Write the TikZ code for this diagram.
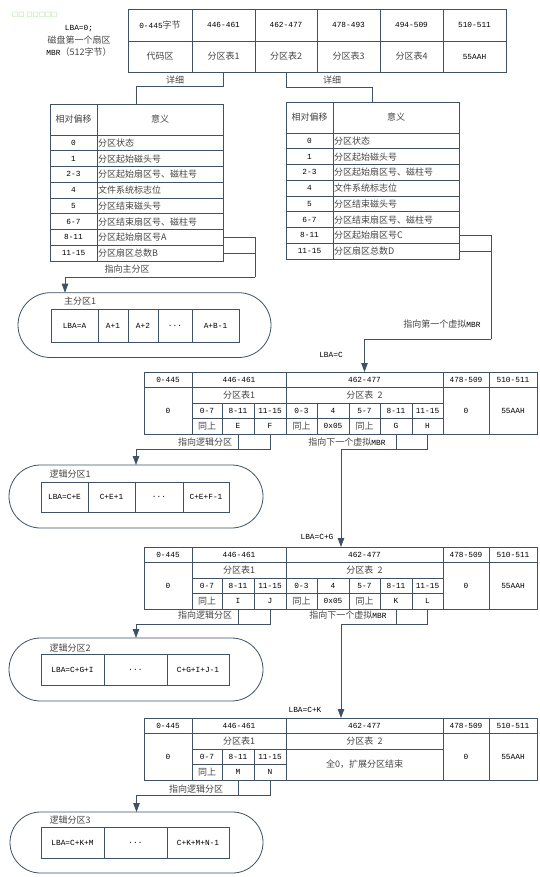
\documentclass[tikz,border=0pt]{standalone}
\usepackage{fontspec}
\setmainfont{Liberation Mono}
\newfontfamily\cjk{Noto Sans CJK SC}
\newfontfamily\djv{DejaVu Sans}
\usetikzlibrary{arrows.meta,fit,calc}
\definecolor{linec}{RGB}{62,82,100}
\definecolor{zhc}{RGB}{70,70,70}
\definecolor{wm}{RGB}{160,222,140}
\newcommand\zh[1]{{\cjk\fontsize{9pt}{12.5pt}\selectfont\color{zhc}#1}}
\newcommand\cellbox[6]{\node[cellst, minimum width={((#4)-(#2))*1pt}, minimum height={((#5)-(#3))*1pt}] (#1) at ({((#2)+(#4))/2},{((#3)+(#5))/2}) {#6};}
\newcommand\cellboxL[6]{\cellbox{#1}{#2}{#3}{#4}{#5}{}\node[anchor=west,inner sep=1pt] at (#1.west) {#6};}
% prefix, k, x0, xm, x1, y0, offset, meaning
\newcommand\prow[8]{%
  \cellbox{#1#2a}{#3}{#6+31+(#2-1)*15.75}{#4}{#6+31+#2*15.75}{#7}%
  \cellboxL{#1#2b}{#4}{#6+31+(#2-1)*15.75}{#5}{#6+31+#2*15.75}{#8}}
% prefix, x0, xm, x1, y0, letterA, letterB
\newcommand\parttable[7]{%
  \cellbox{#1h1}{#2}{#5}{#3}{#5+31}{\zh{相对偏移}}
  \cellbox{#1h2}{#3}{#5}{#4}{#5+31}{\zh{意义}}
  \prow{#1}{1}{#2}{#3}{#4}{#5}{0}{\zh{分区状态}}
  \prow{#1}{2}{#2}{#3}{#4}{#5}{1}{\zh{分区起始磁头号}}
  \prow{#1}{3}{#2}{#3}{#4}{#5}{2-3}{\zh{分区起始扇区号、磁柱号}}
  \prow{#1}{4}{#2}{#3}{#4}{#5}{4}{\zh{文件系统标志位}}
  \prow{#1}{5}{#2}{#3}{#4}{#5}{5}{\zh{分区结束磁头号}}
  \prow{#1}{6}{#2}{#3}{#4}{#5}{6-7}{\zh{分区结束扇区号、磁柱号}}
  \prow{#1}{7}{#2}{#3}{#4}{#5}{8-11}{\zh{分区起始扇区号#6}}
  \prow{#1}{8}{#2}{#3}{#4}{#5}{11-15}{\zh{分区扇区总数#7}}
  \node[fit=(#1h1)(#18b), inner sep=0pt] (#1tab) {};}
% prefix, y0, letter1, letter2
\newcommand\ebrhead[4]{%
  \cellbox{#1a}{144}{#2}{192}{#2+15.5}{0-445}
  \cellbox{#1b}{192}{#2}{286}{#2+15.5}{446-461}
  \cellbox{#1c}{286}{#2}{443}{#2+15.5}{462-477}
  \cellbox{#1d}{443}{#2}{489}{#2+15.5}{478-509}
  \cellbox{#1e}{489}{#2}{537}{#2+15.5}{510-511}
  \cellbox{#1f}{144}{#2+15.5}{192}{#2+62}{0}
  \cellbox{#1g}{192}{#2+15.5}{286}{#2+31}{\zh{分区表1}}
  \cellbox{#1h}{286}{#2+15.5}{443}{#2+31}{\zh{分区表\ \ 2}}
  \cellbox{#1i}{443}{#2+15.5}{489}{#2+62}{0}
  \cellbox{#1j}{489}{#2+15.5}{537}{#2+62}{55AAH}
  \cellbox{#1s1}{192}{#2+31}{222}{#2+46.5}{0-7}
  \cellbox{#1s2}{222}{#2+31}{254}{#2+46.5}{8-11}
  \cellbox{#1s3}{254}{#2+31}{286}{#2+46.5}{11-15}
  \cellbox{#1v1}{192}{#2+46.5}{222}{#2+62}{\zh{同上}}
  \cellbox{#1v2}{222}{#2+46.5}{254}{#2+62}{#3}
  \cellbox{#1v3}{254}{#2+46.5}{286}{#2+62}{#4}}
\newcommand\ebrtail[4]{%
  \cellbox{#1s4}{286}{#2+31}{317}{#2+46.5}{0-3}
  \cellbox{#1s5}{317}{#2+31}{349}{#2+46.5}{4}
  \cellbox{#1s6}{349}{#2+31}{380}{#2+46.5}{5-7}
  \cellbox{#1s7}{380}{#2+31}{412}{#2+46.5}{8-11}
  \cellbox{#1s8}{412}{#2+31}{443}{#2+46.5}{11-15}
  \cellbox{#1v4}{286}{#2+46.5}{317}{#2+62}{\zh{同上}}
  \cellbox{#1v5}{317}{#2+46.5}{349}{#2+62}{0x05}
  \cellbox{#1v6}{349}{#2+46.5}{380}{#2+62}{\zh{同上}}
  \cellbox{#1v7}{380}{#2+46.5}{412}{#2+62}{#3}
  \cellbox{#1v8}{412}{#2+46.5}{443}{#2+62}{#4}}
\begin{document}
\begin{tikzpicture}[x=1pt,y=-1pt,
  every node/.style={font=\fontsize{7.8pt}{12.5pt}\selectfont},
  cellst/.style={draw=linec, line width=0.8pt, inner sep=0pt, outer sep=0pt},
  conn/.style={draw=linec, line width=0.8pt},
  arr/.style={conn, -{Triangle[length=9pt,width=6.5pt]}},
  stad/.style={draw=linec, line width=0.8pt, inner sep=0pt, outer sep=0pt}]
\useasboundingbox[fill=white] (0,0) rectangle (540,877);

\node[text=wm, font=\djv\fontsize{6.5pt}{8pt}\selectfont, anchor=west, inner sep=0pt] (wmk) at (12,15) {□□ □□□□□};

% MBR table
\cellbox{m11}{128}{9}{192}{41}{0-445\zh{字节}}
\cellbox{m12}{192}{9}{255}{41}{446-461}
\cellbox{m13}{255}{9}{317}{41}{462-477}
\cellbox{m14}{317}{9}{380}{41}{478-493}
\cellbox{m15}{380}{9}{443}{41}{494-509}
\cellbox{m16}{443}{9}{506}{41}{510-511}
\cellbox{m21}{128}{41}{192}{72}{\zh{代码区}}
\cellbox{m22}{192}{41}{255}{72}{\zh{分区表1}}
\cellbox{m23}{255}{41}{317}{72}{\zh{分区表2}}
\cellbox{m24}{317}{41}{380}{72}{\zh{分区表3}}
\cellbox{m25}{380}{41}{443}{72}{\zh{分区表4}}
\cellbox{m26}{443}{41}{506}{72}{55AAH}
\node[align=center] (mbrlbl) at (79,41) {LBA=0;\\\zh{磁盘第一个扇区}\\MBR\zh{（512字节）}};

% detail tables
\parttable{L}{50}{97}{223}{104}{A}{B}
\parttable{R}{286}{333}{459}{102}{C}{D}

\draw[conn] (m22.south) |- ([yshift=17pt]Ltab.north) -- (Ltab.north);
\draw[conn] (m23.south) |- ([yshift=14pt]Rtab.north) -- (Rtab.north);
\node (xx1) at (175,80) {\zh{详细}};
\node (xx2) at (332,80) {\zh{详细}};

% primary partition
\node[stad, minimum width=253pt, minimum height=64.8pt, rounded corners=32.4pt] (P) at (144.5,325.1) {};
\node (Plbl) at (80,301) {\zh{主分区1}};
\cellbox{P1}{51}{309}{98}{342}{LBA=A}
\cellbox{P2}{98}{309}{128}{342}{A+1}
\cellbox{P3}{128}{309}{158}{342}{A+2}
\cellbox{P4}{158}{309}{192}{342}{...}
\cellbox{P5}{192}{309}{239}{342}{A+B-1}

\coordinate (Lj) at (255,277);
\draw[conn] (L7b.east) -| (Lj);
\draw[conn] (L8b.east) -- (L8b.east -| Lj);
\draw[arr] (Lj) -| ([xshift=-79.5pt]P.north);
\node (t1) at (127,269) {\zh{指向主分区}};

% EBR 1
\ebrhead{T2}{372}{E}{F}
\ebrtail{T2}{372}{G}{H}
\coordinate (Rj) at (491,339);
\draw[conn] (R7b.east) -| (Rj);
\draw[conn] (R8b.east) -- (R8b.east -| Rj);
\draw[arr] (Rj) -| (T2c.north);
\node (t2) at (442,324) {\zh{指向第一个虚拟}MBR};
\node (l2) at (331,355) {LBA=C};

% logical 1
\node[stad, minimum width=254pt, minimum height=63pt, rounded corners=31.5pt] (S1) at (136,496.5) {};
\node (S1lbl) at (70,474) {\zh{逻辑分区1}};
\cellbox{S1a}{41}{482}{88}{512}{LBA=C+E}
\cellbox{S1b}{88}{482}{135}{512}{C+E+1}
\cellbox{S1c}{135}{482}{183}{512}{...}
\cellbox{S1d}{183}{482}{229}{512}{C+E+F-1}

\draw[conn] (T2v2.south) -- ++(0,15);
\draw[arr] (T2v3.south) -- ++(0,15) -| (S1.north);
\draw[conn] (T2v7.south) -- ++(0,15);
\node (t3) at (205,442) {\zh{指向逻辑分区}};
\node (t4) at (347,442) {\zh{指向下一个虚拟}MBR};

% EBR 2
\ebrhead{T3}{547}{I}{J}
\ebrtail{T3}{547}{K}{L}
\draw[arr] (T2v8.south) -- ++(0,15) -| ([xshift=-23.5pt]T3c.north);
\node (l3) at (317,537) {LBA=C+G};

\node[stad, minimum width=254pt, minimum height=63pt, rounded corners=31.5pt] (S2) at (136,669.5) {};
\node (S2lbl) at (70,648) {\zh{逻辑分区2}};
\cellbox{S2a}{41}{654}{104}{685}{LBA=C+G+I}
\cellbox{S2b}{104}{654}{167}{685}{...}
\cellbox{S2c}{167}{654}{229}{685}{C+G+I+J-1}

\draw[conn] (T3v2.south) -- ++(0,15);
\draw[arr] (T3v3.south) -- ++(0,15) -| (S2.north);
\draw[conn] (T3v7.south) -- ++(0,15);
\node (t5) at (205,615) {\zh{指向逻辑分区}};
\node (t6) at (348,615) {\zh{指向下一个虚拟}MBR};

% EBR 3
\ebrhead{T4}{718}{M}{N}
\cellbox{T4m}{286}{749}{443}{780}{\zh{全0，扩展分区结束}}
\draw[arr] (T3v8.south) -- ++(0,15) -| ([xshift=-23.5pt]T4c.north);
\node (l4) at (305,710) {LBA=C+K};

\node[stad, minimum width=253pt, minimum height=61pt, rounded corners=30.5pt] (S3) at (136.5,842.5) {};
\node (S3lbl) at (70,820) {\zh{逻辑分区3}};
\cellbox{S3a}{41}{827}{104}{858}{LBA=C+K+M}
\cellbox{S3b}{104}{827}{167}{858}{...}
\cellbox{S3c}{167}{827}{229}{858}{C+K+M+N-1}

\draw[conn] (T4v2.south) -- ++(0,15);
\draw[arr] (T4v3.south) -- ++(0,15) -| (S3.north);
\node (t7) at (196,789) {\zh{指向逻辑分区}};
\end{tikzpicture}
\end{document}
